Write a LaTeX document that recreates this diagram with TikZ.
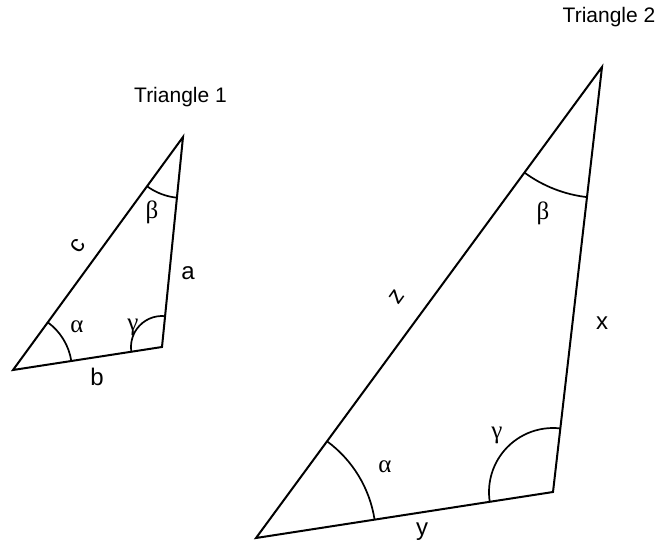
\documentclass[tikz,border=0pt]{standalone}
\usepackage{fontspec}
\setmainfont{Liberation Sans}
\newfontfamily\greekfont{Liberation Serif}
\usetikzlibrary{angles}

\begin{document}
\begin{tikzpicture}[x=1pt, y=1pt,
    side/.style={line width=2pt, line join=miter},
    angmark/.style={draw, line width=1.7pt},
    lbl/.style={inner sep=0pt, font=\fontsize{24}{27}\selectfont},
    greek/.style={inner sep=0pt, font=\fontsize{25}{28}\selectfont\greekfont},
    title/.style={inner sep=0pt, anchor=base, font=\fontsize{21}{25}\selectfont}]
    \useasboundingbox (0,0) rectangle (663,544);

    % Triangle 1
    \coordinate (A1) at (13,174);
    \coordinate (C1) at (162,197);
    \coordinate (B1) at (183,407);
    \draw[side] (A1) -- (C1) -- (B1) -- cycle;
    \pic[angmark, angle radius=59pt] {angle = C1--A1--B1};
    \pic[angmark, angle radius=31pt] {angle = B1--C1--A1};
    \pic[angmark, angle radius=61pt] {angle = A1--B1--C1};
    \node[lbl, rotate=54] (c1) at (78,298) {c};
    \node[lbl] (a1) at (188,271) {a};
    \node[lbl] (b1) at (97,167) {b};
    \node[greek] (al1) at (77,217) {α};
    \node[greek] (ga1) at (133,217) {γ};
    \node[greek] (be1) at (152,332) {β};
    \node[title] (t1) at (180.5,441) {Triangle 1};

    % Triangle 2
    \coordinate (A2) at (256,6);
    \coordinate (C2) at (553,52);
    \coordinate (B2) at (602,477);
    \draw[side] (A2) -- (C2) -- (B2) -- cycle;
    \pic[angmark, angle radius=120pt] {angle = C2--A2--B2};
    \pic[angmark, angle radius=64pt] {angle = B2--C2--A2};
    \pic[angmark, angle radius=131pt] {angle = A2--B2--C2};
    \node[lbl, rotate=54] (z2) at (397,247) {z};
    \node[lbl] (x2) at (602,221) {x};
    \node[lbl] (y2) at (422,12) {y};
    \node[greek] (al2) at (385,77) {α};
    \node[greek] (ga2) at (497,109) {γ};
    \node[greek] (be2) at (543,331) {β};
    \node[title] (t2) at (609,521) {Triangle 2};
\end{tikzpicture}
\end{document}
